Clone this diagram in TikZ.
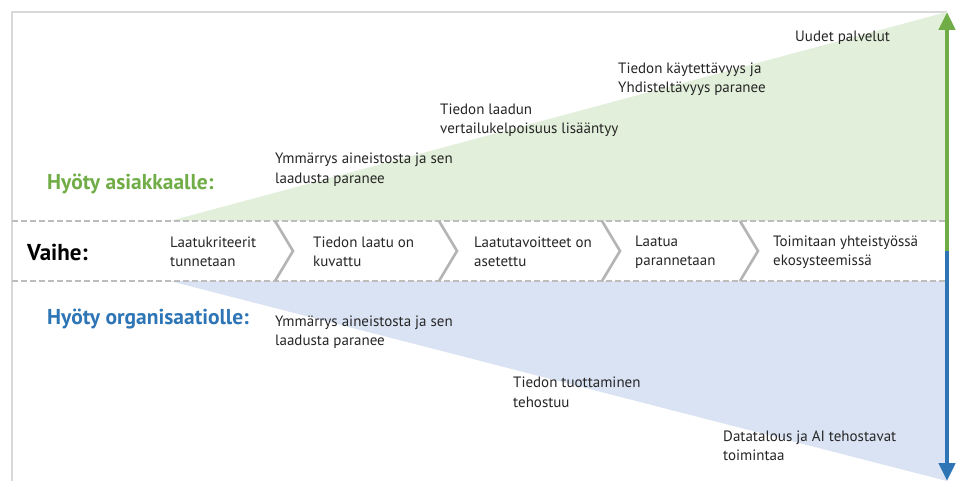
\documentclass[tikz,border=0pt]{standalone}
\usepackage{fontspec}
\setmainfont{PT Sans}
\usetikzlibrary{arrows.meta}
\definecolor{gfill}{HTML}{E2EFDA}
\definecolor{bfill}{HTML}{DAE3F3}
\definecolor{gline}{HTML}{70AD47}
\definecolor{bline}{HTML}{2E75B6}
\definecolor{framecol}{HTML}{D9D9D9}
\definecolor{dashcol}{HTML}{BDBDBD}
\definecolor{chevcol}{HTML}{B4B4B4}
\definecolor{txtcol}{HTML}{262626}
\begin{document}
\begin{tikzpicture}[x=1pt,y=-1pt,
  txt/.style={anchor=west, align=left, inner sep=0pt, text=txtcol,
    font=\fontsize{15}{19.5}\selectfont},
  head/.style={anchor=west, inner sep=0pt, font=\fontsize{21.5}{25}\selectfont\bfseries},
  rowline/.style={dashcol, line width=1.8, dash pattern=on 6pt off 3pt},
  chevron/.style={chevcol, line width=2.6},
  benefit/.style={line width=4.5, -{Triangle[width=16pt,length=18pt]}}]
\useasboundingbox (0,0) rectangle (961,481);
\fill[white] (0,0) rectangle (961,481);

% outer frame (left and top edges)
\draw[framecol, line width=1.2] (12,481) -- (12,12) -- (947,12);

% growing benefit wedges
\fill[gfill] (170,221) -- (947,12) -- (947,221) -- cycle;
\fill[bfill] (170,281) -- (947,481) -- (947,281) -- cycle;

% phase row borders
\draw[rowline] (12,221) -- (945,221);
\draw[rowline] (12,281) -- (945,281);

% chevrons between phases
\foreach \cx in {275,439,602,740}
  \draw[chevron] (\cx,221) -- (\cx+18,251) -- (\cx,281);

% benefit arrows
\coordinate (mid) at (947,251);
\coordinate (gtop) at (947,12);
\coordinate (bbot) at (947,481);
\draw[benefit, gline] (mid) -- (gtop);
\draw[benefit, bline] (mid) -- (bbot);

% row headings
\node[head, text=gline] (hasiakas) at (47,184) {Hyöty asiakkaalle:};
\node[head, text=black, font=\fontsize{23}{27}\selectfont\bfseries] (vaihe) at (27,252) {Vaihe:};
\node[head, text=bline] (horg) at (47,319) {Hyöty organisaatiolle:};

% customer benefits
\node[txt] (c1) at (275,169.5) {Ymmärrys aineistosta ja sen\\laadusta paranee};
\node[txt] (c2) at (440,120) {Tiedon laadun\\vertailukelpoisuus lisääntyy};
\node[txt] (c3) at (618,79) {Tiedon käytettävyys ja\\Yhdisteltävyys paranee};
\node[txt] (c4) at (795,38) {Uudet palvelut};

% phases
\node[txt] (p1) at (170,252) {Laatukriteerit\\tunnetaan};
\node[txt] (p2) at (313,252) {Tiedon laatu on\\kuvattu};
\node[txt] (p3) at (474,252) {Laatutavoitteet on\\asetettu};
\node[txt] (p4) at (635,252) {Laatua\\parannetaan};
\node[txt] (p5) at (773,252) {Toimitaan yhteistyössä\\ekosysteemissä};

% organisation benefits
\node[txt] (o1) at (275,332) {Ymmärrys aineistosta ja sen\\laadusta paranee};
\node[txt] (o2) at (513,392.5) {Tiedon tuottaminen\\tehostuu};
\node[txt] (o3) at (723,446) {Datatalous ja AI tehostavat\\toimintaa};
\end{tikzpicture}
\end{document}
